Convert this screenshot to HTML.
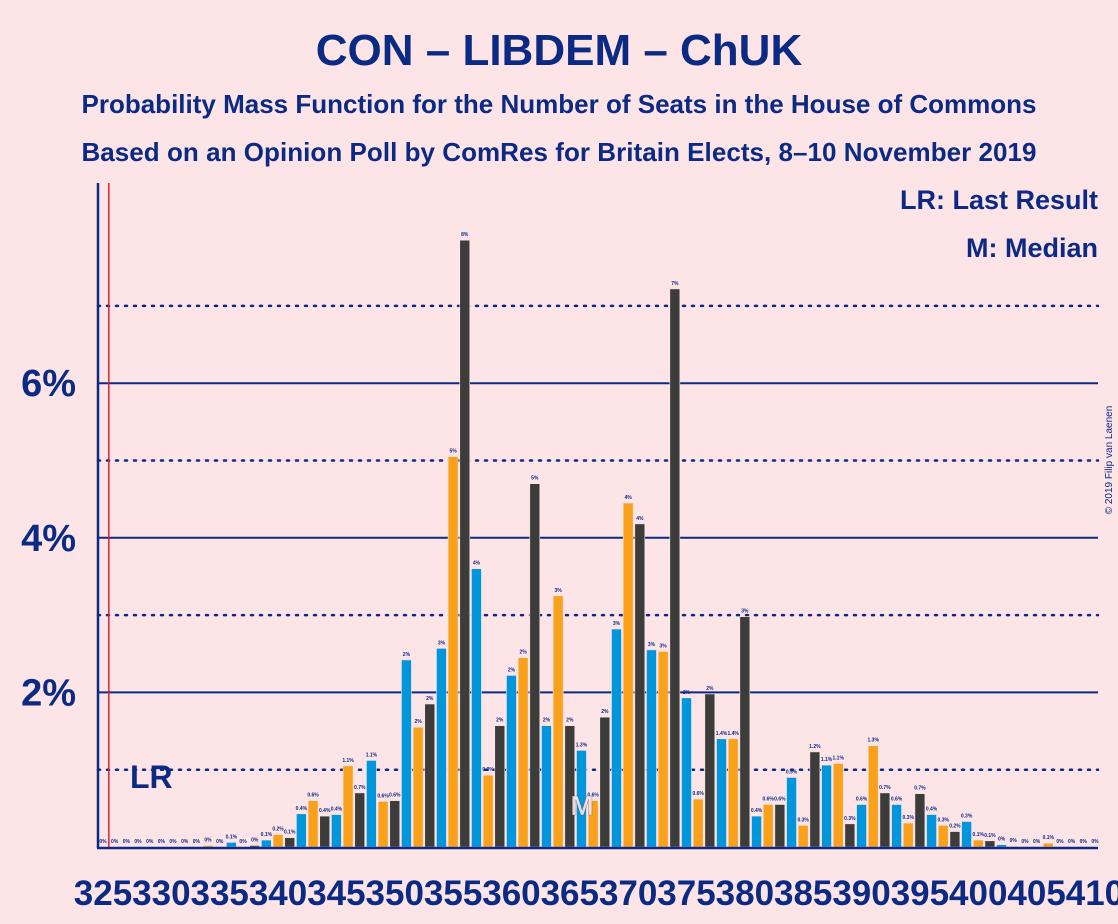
<!DOCTYPE html>
<html><head><meta charset="utf-8"><style>
body{margin:0;background:#fde4e7;}
svg{display:block;font-family:"Liberation Sans",sans-serif;}
</style></head><body>
<svg id="chart" width="1118" height="924" viewBox="0 0 1118 924">
<rect width="1118" height="924" fill="#fde4e7"/>
<text x="559" y="65" text-anchor="middle" font-size="44" font-weight="bold" fill="#0b2a83">CON – LIBDEM – ChUK</text>
<text x="559" y="113" text-anchor="middle" font-size="26" font-weight="bold" fill="#0b2a83" textLength="955">Probability Mass Function for the Number of Seats in the House of Commons</text>
<text x="559" y="161" text-anchor="middle" font-size="26" font-weight="bold" fill="#0b2a83" textLength="955">Based on an Opinion Poll by ComRes for Britain Elects, 8–10 November 2019</text>
<text x="1098" y="209" text-anchor="end" font-size="27" font-weight="bold" fill="#0b2a83">LR: Last Result</text>
<text x="1098" y="257" text-anchor="end" font-size="27" font-weight="bold" fill="#0b2a83">M: Median</text>
<text transform="translate(1112,460) rotate(-90)" font-size="10" fill="#0b2a83" text-anchor="middle">© 2019 Filip van Laenen</text>
<g id="grid"></g>
<g id="bars"></g>
<g id="xt"></g>
</svg>
<script>
const seats = [];
for (let s = 325; s <= 410; s++) seats.push(s);
const probs = [0,0,0,0,0,0,0,0,0,0.02,0,0.06,0,0.02,0.09,0.16,0.12,0.43,0.6,0.4,
0.42,1.05,0.7,1.12,0.59,0.6,2.42,1.55,1.85,2.57,5.05,7.85,3.6,0.93,1.57,2.22,2.45,4.7,1.57,3.25,
1.57,1.25,0.6,1.68,2.82,4.45,4.18,2.55,2.53,7.22,1.93,0.62,1.98,1.4,1.4,2.98,0.4,0.55,0.55,0.9,
0.28,1.23,1.06,1.08,0.3,0.55,1.31,0.7,0.55,0.31,0.69,0.42,0.28,0.2,0.33,0.09,0.08,0.03,0.01,0,
0,0.05,0,0,0,0];
const yTicks = [2,4,6];
const dottedTicks = [1,3,5,7];
const xTickLabels = [325,330,335,340,345,350,355,360,365,370,375,380,385,390,395,400,405,410];
const lastResult = 325.5;
const median = 366;

const NS="http://www.w3.org/2000/svg";
const X0=103, STEP=11.67, Y0=847, PPU=77.3;
const xs = s => X0 + (s-325)*STEP;
const ys = v => Y0 - v*PPU;
const colors=["#0096db","#f9a11b","#3c3c3b"];
function mk(tag, attrs, parent){const e=document.createElementNS(NS,tag);for(const k in attrs)e.setAttribute(k,attrs[k]);parent.appendChild(e);return e;}
const grid=document.getElementById('grid'), bars=document.getElementById('bars'), xt=document.getElementById('xt');
dottedTicks.forEach(t=>{
  const l=mk('line',{x1:98,x2:1098,y1:ys(t),y2:ys(t),stroke:'#0b2a83','stroke-width':2.5,'stroke-dasharray':'2 7','stroke-linecap':'round'},grid);
  
  
});
yTicks.forEach(t=>{
  const l=mk('line',{x1:98,x2:1098,y1:ys(t),y2:ys(t),stroke:'#0b2a83','stroke-width':2},grid);
  
  
  const tx=mk('text',{x:76,y:ys(t)+13,'text-anchor':'end','font-size':38,'font-weight':'bold',fill:'#0b2a83'},grid);
  tx.textContent=t+'%';
  
  
});
seats.forEach((s,i)=>{
  const v=probs[i];
  const x=xs(s);
  const r=mk('rect',{x:x-5,y:ys(v),width:10,height:Math.max(0,Y0-ys(v)),fill:colors[s%3],stroke:'#fde4e7','stroke-width':0.6},bars);
  
  
  const lbl = v<0.05 ? '0%' : (v<1.5 ? v.toFixed(1)+'%' : Math.round(v)+'%');
  const tx=mk('text',{x:x,y:ys(v)-4,'text-anchor':'middle','font-size':5,'font-weight':'bold',fill:'#0b2a83'},bars);
  tx.textContent=lbl;
  
  
});
const ax=mk('line',{x1:98,x2:98,y1:183,y2:Y0+1,stroke:'#0b2a83','stroke-width':2.5},grid);


const xa=mk('line',{x1:97,x2:1098,y1:Y0+1,y2:Y0+1,stroke:'#0b2a83','stroke-width':2.5},bars);


const lr=mk('line',{x1:xs(lastResult),x2:xs(lastResult),y1:183,y2:Y0,stroke:'#e0202e','stroke-width':1.5},bars);


const lrt=mk('text',{x:130,y:788,'font-size':32,'font-weight':'bold',fill:'#0b2a83'},bars);
lrt.textContent='LR';


const mt=mk('text',{x:xs(median)-11,y:815,'font-size':28,'font-weight':'bold',fill:'#fde4e7',stroke:'#3c3c3b','stroke-width':0.3,opacity:0.9},bars);
mt.textContent='M';


xTickLabels.forEach(s=>{
  const tx=mk('text',{x:xs(s),y:905,'text-anchor':'middle','font-size':35,'font-weight':'bold',fill:'#0b2a83'},xt);
  tx.textContent=s;
  
  
});
</script>
</body></html>
